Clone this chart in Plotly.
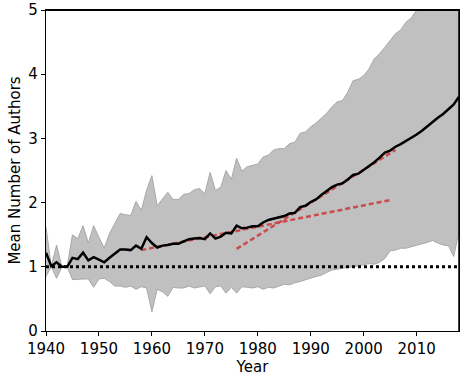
import plotly.graph_objects as go

# ------------------------------------------------------------
# Datos (1940-2018, anual)
# ------------------------------------------------------------
years = list(range(1940, 2019))

mean_authors = [
    1.22, 1.01, 1.07, 1.00, 1.00, 1.14, 1.12, 1.22, 1.10, 1.15,
    1.11, 1.07, 1.14, 1.20, 1.27, 1.27, 1.26, 1.33, 1.28, 1.46,
    1.37, 1.30, 1.33, 1.34, 1.36, 1.36, 1.39, 1.43, 1.44, 1.45,
    1.43, 1.52, 1.44, 1.47, 1.53, 1.52, 1.64, 1.60, 1.61, 1.63,
    1.63, 1.69, 1.73, 1.75, 1.78, 1.79, 1.83, 1.84, 1.93, 1.95,
    2.01, 2.05, 2.12, 2.18, 2.24, 2.28, 2.30, 2.36, 2.43, 2.45,
    2.51, 2.56, 2.63, 2.70, 2.78, 2.81, 2.87, 2.91, 2.96, 3.00,
    3.06, 3.12, 3.19, 3.26, 3.32, 3.38, 3.45, 3.53, 3.65,
]

upper_band = [
    1.62, 1.00, 1.34, 1.00, 1.00, 1.50, 1.44, 1.64, 1.37, 1.64,
    1.46, 1.29, 1.52, 1.67, 1.83, 1.81, 1.80, 2.02, 1.88, 2.19,
    2.42, 1.95, 2.06, 2.16, 2.05, 2.05, 2.13, 2.14, 2.20, 2.22,
    2.14, 2.47, 2.19, 2.24, 2.50, 2.36, 2.69, 2.49, 2.56, 2.58,
    2.60, 2.71, 2.74, 2.82, 2.84, 2.84, 2.92, 2.94, 3.08, 3.10,
    3.18, 3.24, 3.31, 3.39, 3.49, 3.57, 3.59, 3.72, 3.90, 3.92,
    3.98, 4.08, 4.24, 4.32, 4.42, 4.52, 4.63, 4.69, 4.81, 4.88,
    5.00, 5.08, 5.18, 5.30, 5.40, 5.50, 5.62, 5.75, 5.90,
]

lower_band = [
    0.85, 1.00, 0.82, 1.00, 1.00, 0.80, 0.80, 0.81, 0.81, 0.68,
    0.81, 0.82, 0.77, 0.70, 0.70, 0.68, 0.70, 0.65, 0.69, 0.67,
    0.30, 0.65, 0.61, 0.54, 0.68, 0.67, 0.67, 0.70, 0.67, 0.68,
    0.70, 0.58, 0.69, 0.70, 0.59, 0.68, 0.59, 0.69, 0.68, 0.67,
    0.69, 0.65, 0.68, 0.67, 0.70, 0.73, 0.72, 0.75, 0.77, 0.80,
    0.82, 0.85, 0.87, 0.91, 0.95, 0.97, 0.98, 0.99, 1.00, 1.02,
    1.03, 1.05, 1.04, 1.07, 1.13, 1.25, 1.26, 1.29, 1.29, 1.31,
    1.34, 1.36, 1.38, 1.41, 1.37, 1.34, 1.33, 1.16, 1.55,
]

# Líneas de tendencia (inicio, fin)
trend_early_x = [1958, 2005]
trend_early_y = [1.26, 2.04]
trend_late_x = [1976, 2006]
trend_late_y = [1.28, 2.82]

baseline_x = [1940, 2018]
baseline_y = [1, 1]

x_ticks = [1940, 1950, 1960, 1970, 1980, 1990, 2000, 2010]
y_ticks = [0, 1, 2, 3, 4, 5]

RED = "#cd4a4a"
FONT = "DejaVu Sans"

fig = go.Figure()

# Banda gris
fig.add_trace(go.Scatter(
    x=years + years[::-1],
    y=upper_band + lower_band[::-1],
    fill="toself",
    fillcolor="#c0c0c0",
    line=dict(color="#a8a8a8", width=1),
    hoverinfo="skip",
    showlegend=False,
))

# Línea base punteada en 1
fig.add_trace(go.Scatter(
    x=baseline_x, y=baseline_y, mode="lines",
    line=dict(color="black", width=3, dash="3px,3px"),
    showlegend=False,
))

# Tendencias rojas
fig.add_trace(go.Scatter(
    x=trend_early_x, y=trend_early_y, mode="lines",
    line=dict(color=RED, width=2.5, dash="5px,3px"),
    showlegend=False,
))
fig.add_trace(go.Scatter(
    x=trend_late_x, y=trend_late_y, mode="lines",
    line=dict(color=RED, width=2.5, dash="5px,3px"),
    showlegend=False,
))

# Media
fig.add_trace(go.Scatter(
    x=years, y=mean_authors, mode="lines",
    line=dict(color="black", width=2.5),
    showlegend=False,
))

# Marco superior y derecho
fig.add_shape(
    type="line", xref="paper", yref="paper",
    x0=0, x1=1, y0=1, y1=1,
    line=dict(color="black", width=2), layer="above",
)
fig.add_shape(
    type="line", xref="paper", yref="paper",
    x0=1, x1=1, y0=0, y1=1,
    line=dict(color="black", width=1.5), layer="above",
)

axis_common = dict(
    showgrid=False, zeroline=False, automargin=False,
    showline=True, linecolor="black", linewidth=1.2, mirror=True,
    ticks="outside", ticklen=4, tickwidth=1, tickcolor="black",
    ticklabeloverflow="allow",
    tickfont=dict(family=FONT, size=15, color="black"),
)

fig.update_layout(
    width=464, height=379,
    paper_bgcolor="white", plot_bgcolor="white",
    margin=dict(l=46, r=5, t=10, b=48),
    xaxis=dict(
        **axis_common,
        range=[1940, 2018],
        tickvals=x_ticks,
        title=dict(text="Year", font=dict(family=FONT, size=15, color="black"), standoff=2),
    ),
    yaxis=dict(
        **axis_common,
        range=[0, 5],
        tickvals=y_ticks,
        title=dict(text="Mean Number of Authors", font=dict(family=FONT, size=15, color="black"), standoff=4),
    ),
)

# Quitar el margen por defecto del body para que la figura llene la ventana
fig.write_html(
    "out.html",
    config={"displayModeBar": False},
    post_script="document.body.style.margin='0px';",
)
